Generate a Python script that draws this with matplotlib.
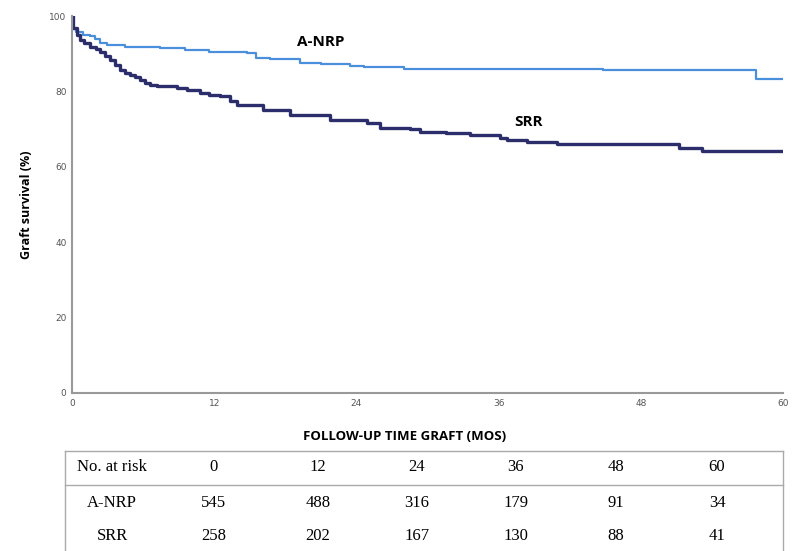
import matplotlib.pyplot as plt
from matplotlib.lines import Line2D

# Kaplan-Meier step data (months, % surviving)
anrp_time = [0, 0.05, 0.1, 0.3, 0.95, 1.5, 1.9, 2.4, 2.95, 4.5, 7.4, 9.5, 11.6, 14.8, 15.5,
             16.7, 19.2, 21.0, 23.5, 24.6, 28.0, 44.8, 57.7, 60]
anrp_surv = [100, 98.0, 96.5, 95.8, 95.0, 94.7, 93.8, 92.8, 92.3, 91.8, 91.4, 91.0, 90.5, 90.1,
             88.9, 88.5, 87.6, 87.3, 86.7, 86.4, 86.0, 85.7, 83.4, 83.4]

srr_time = [0, 0.05, 0.1, 0.4, 0.67, 1.0, 1.5, 2.0, 2.4, 2.8, 3.2, 3.6, 4.05, 4.5, 4.9, 5.3, 5.7,
            6.2, 6.6, 7.2, 8.9, 9.7, 10.8, 11.6, 12.5, 13.3, 13.9, 16.1, 18.4, 21.8, 24.9, 26.0,
            28.5, 29.4, 31.6, 33.6, 36.1, 36.7, 38.4, 40.9, 51.2, 53.2, 60]
srr_surv = [100, 98.5, 96.8, 95.0, 93.6, 92.8, 91.9, 91.2, 90.5, 89.4, 88.3, 87.0, 85.7, 85.0,
            84.4, 83.7, 83.0, 82.3, 81.7, 81.4, 80.8, 80.4, 79.5, 79.1, 78.7, 77.5, 76.4, 75.1,
            73.7, 72.4, 71.5, 70.4, 69.9, 69.3, 69.0, 68.4, 67.6, 67.1, 66.5, 66.0, 65.1, 64.1, 64.1]

x_ticks = [0, 12, 24, 36, 48, 60]
y_ticks = [0, 20, 40, 60, 80, 100]

risk_header = ["No. at risk", "0", "12", "24", "36", "48", "60"]
risk_anrp = [545, 488, 316, 179, 91, 34]
risk_srr = [258, 202, 167, 130, 88, 41]

anrp_color = "#4a8fdc"
srr_color = "#2b2e6a"

fig = plt.figure(figsize=(8, 5.51), dpi=100)
ax = fig.add_axes([72 / 800, 1 - 393 / 551, (783 - 72) / 800, (393 - 16) / 551])

ax.step(anrp_time, anrp_surv, where="post", color=anrp_color, lw=1.6)
ax.step(srr_time, srr_surv, where="post", color=srr_color, lw=2.4)

ax.text(21, 93.0, "A-NRP", fontsize=11, fontweight="bold", family="Open Sans", ha="center", va="center")
ax.text(38.5, 72.0, "SRR", fontsize=11, fontweight="bold", family="Open Sans", ha="center", va="center")

ax.set_xlim(0, 60)
ax.set_ylim(0, 100)
ax.set_xticks(x_ticks)
ax.set_yticks(y_ticks)
ax.tick_params(length=0, labelsize=6.5, labelcolor="#555555", pad=4)
for side in ["top", "right"]:
    ax.spines[side].set_visible(False)
for side in ["left", "bottom"]:
    ax.spines[side].set_color("#999999")
    ax.spines[side].set_linewidth(1.5)

ax.set_ylabel("Graft survival (%)", fontsize=9, fontweight="bold", family="Open Sans", labelpad=12)
fig.text(405 / 800, 1 - 436 / 551, "FOLLOW-UP TIME GRAFT (MOS)", fontsize=9.5, fontweight="bold",
         family="Open Sans", ha="center", va="center")

# number-at-risk table drawn in pixel-like figure coordinates
def fx(px):
    return px / 800

def fy(py):
    return 1 - py / 551

grey = "#aaaaaa"
for y in [451, 485]:
    fig.add_artist(Line2D([fx(65), fx(783)], [fy(y), fy(y)], color=grey, lw=1))
for x in [65, 783]:
    fig.add_artist(Line2D([fx(x), fx(x)], [fy(451), fy(551)], color=grey, lw=1))

col_x = [112, 214, 318, 417, 516, 616, 717]
rows = [(467, risk_header), (503, ["A-NRP"] + [str(v) for v in risk_anrp]),
        (536, ["SRR"] + [str(v) for v in risk_srr])]
for y, cells in rows:
    for x, txt in zip(col_x, cells):
        fig.text(fx(x), fy(y), txt, fontsize=12, family="Liberation Serif", ha="center", va="center")

fig.savefig("out.png", dpi=100)
